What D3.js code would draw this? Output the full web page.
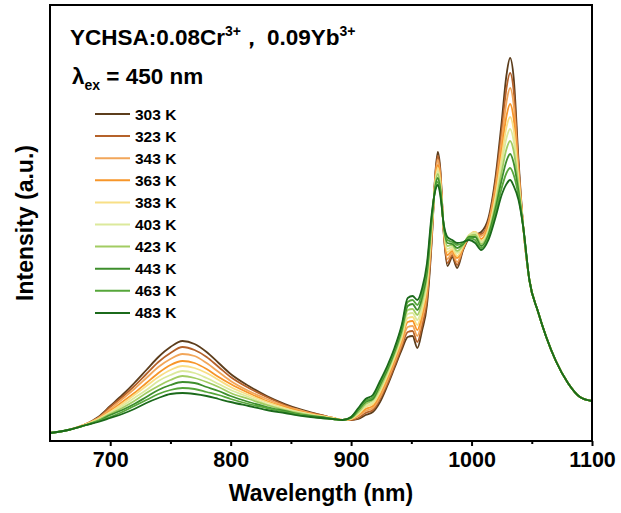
<!DOCTYPE html>
<html>
<head>
<meta charset="utf-8">
<script src="https://cdn.jsdelivr.net/npm/d3@7"></script>
<style>
    body { margin: 0; background: #fff; }
    svg { display: block; }
    text { font-family: "Liberation Sans", Arial, sans-serif; font-weight: bold; fill: #000; }
</style>
</head>
<body>
<div id="chart"></div>
<script>

// Données (intensité en unités arbitraires)
const wavelengths = [650, 665, 680, 690, 700, 710, 720, 730, 740, 750, 760, 770, 780, 790, 800, 815, 830, 845, 860, 875, 885, 893,
    900, 906, 912, 918, 924, 930, 936, 942, 947, 951, 955, 959, 963, 967, 970, 972, 974, 977, 980, 984, 988, 993, 998,
    1003, 1008, 1014, 1020, 1025, 1029, 1032, 1035, 1039, 1043, 1048, 1055, 1062, 1070, 1080, 1090, 1100];

const temperatures = ["303 K", "323 K", "343 K", "363 K", "383 K", "403 K", "423 K", "443 K", "463 K", "483 K"];

const i303 = [8, 11, 17, 24, 35, 46, 58, 71, 84, 94, 100, 97, 89, 78, 67, 55, 45, 37, 31, 26, 23, 21, 21, 22, 26, 29, 39, 55, 73, 91, 104, 105, 93, 111, 136, 201, 269, 289, 273, 206, 175, 184, 173, 191, 203, 206, 209, 223, 265, 319, 366, 383, 363, 281, 213, 161, 130, 104, 80, 58, 44, 40];
const i323 = [8, 11, 17, 23, 34, 44, 55, 67, 79, 88, 94, 91, 84, 74, 64, 53, 44, 36, 30, 26, 23, 21, 21, 23, 28, 31, 42, 57, 75, 94, 109, 110, 99, 116, 141, 204, 267, 285, 270, 207, 178, 186, 176, 192, 204, 207, 207, 220, 260, 310, 353, 368, 350, 276, 213, 161, 130, 104, 80, 58, 44, 40];
const i343 = [8, 11, 17, 23, 32, 42, 52, 63, 74, 82, 87, 85, 78, 69, 60, 50, 42, 35, 30, 25, 23, 21, 22, 25, 30, 33, 44, 60, 78, 97, 114, 115, 105, 122, 147, 208, 265, 281, 266, 209, 182, 188, 179, 193, 205, 208, 205, 218, 255, 301, 339, 353, 336, 271, 213, 161, 130, 104, 80, 58, 44, 40];
const i363 = [8, 11, 17, 22, 30, 39, 48, 58, 68, 76, 80, 78, 72, 64, 57, 48, 40, 34, 29, 25, 23, 21, 22, 26, 32, 35, 47, 63, 81, 101, 119, 120, 111, 127, 152, 211, 262, 276, 263, 210, 186, 190, 183, 194, 205, 209, 202, 215, 249, 291, 325, 337, 322, 266, 213, 161, 130, 104, 80, 58, 44, 40];
const i383 = [8, 11, 17, 22, 29, 37, 46, 55, 64, 71, 75, 73, 68, 61, 54, 46, 39, 33, 28, 25, 23, 21, 22, 27, 34, 37, 49, 65, 83, 103, 123, 124, 116, 131, 156, 214, 260, 273, 260, 211, 189, 192, 185, 195, 206, 209, 200, 212, 245, 284, 314, 324, 311, 262, 213, 161, 130, 104, 80, 58, 44, 40];
const i403 = [8, 11, 16, 21, 28, 35, 43, 51, 60, 66, 70, 68, 63, 57, 51, 44, 37, 32, 28, 24, 22, 21, 23, 28, 35, 39, 51, 67, 85, 106, 127, 128, 121, 135, 160, 217, 259, 270, 257, 212, 192, 194, 188, 196, 206, 208, 199, 210, 241, 277, 303, 312, 300, 258, 213, 161, 130, 104, 80, 58, 44, 40];
const i423 = [8, 11, 16, 21, 27, 33, 40, 48, 55, 61, 65, 63, 59, 54, 48, 42, 36, 31, 27, 24, 22, 21, 23, 29, 37, 41, 53, 69, 87, 108, 131, 132, 126, 140, 165, 219, 257, 267, 255, 213, 195, 196, 190, 196, 205, 206, 197, 208, 237, 269, 292, 300, 290, 254, 213, 161, 130, 104, 80, 58, 44, 40];
const i443 = [8, 11, 16, 20, 26, 31, 37, 44, 51, 56, 59, 58, 54, 50, 45, 39, 34, 30, 26, 24, 22, 21, 23, 31, 39, 42, 56, 71, 89, 111, 135, 137, 131, 144, 169, 222, 255, 263, 252, 214, 198, 197, 193, 197, 204, 204, 195, 206, 233, 261, 280, 287, 278, 249, 213, 161, 130, 104, 80, 58, 44, 40];
const i463 = [8, 11, 16, 20, 24, 29, 35, 41, 47, 51, 53, 52, 49, 46, 42, 37, 33, 29, 26, 23, 22, 21, 24, 32, 40, 44, 58, 73, 91, 114, 139, 141, 136, 149, 174, 225, 253, 259, 249, 215, 201, 199, 196, 198, 203, 201, 193, 203, 228, 253, 268, 273, 266, 245, 213, 161, 130, 104, 80, 58, 44, 40];
const i483 = [8, 11, 16, 19, 23, 27, 32, 38, 43, 47, 48, 47, 45, 42, 39, 35, 31, 28, 25, 23, 22, 21, 24, 33, 42, 46, 60, 75, 93, 116, 143, 145, 141, 153, 178, 228, 251, 256, 246, 216, 204, 201, 198, 199, 201, 198, 191, 201, 224, 246, 257, 261, 255, 241, 213, 161, 130, 104, 80, 58, 44, 40];

const seriesValues = [i303, i323, i343, i363, i383, i403, i423, i443, i463, i483];

const majorTicks = [700, 800, 900, 1000, 1100];
const minorTicks = [750, 850, 950, 1050];

// couleurs des courbes (du plus froid au plus chaud)
const palette = ["#5c3d1c", "#b5622a", "#f2a65a", "#f7962a", "#f8df86", "#dce99c", "#a2cc62", "#3e8e2c", "#56a63a", "#1b6a1b"];

//---------------------------------------------------------------------------------------

// Canevas SVG

const W = 621;
const H = 513;
const plot = { left: 50, right: 592, top: 5, bottom: 441 };

const svg = d3.select("#chart")
    .append("svg")
    .attr("width", W)
    .attr("height", H);

// Échelles
const scaleX = d3.scaleLinear()
    .domain([650, 1100])
    .range([plot.left, plot.right]);

const scaleY = d3.scaleLinear()
    .domain([0, 436])
    .range([plot.bottom, plot.top]);

//---------------------------------------------------------------------------------------

// Courbes

const series = temperatures.map((t, i) => ({
    label: t,
    col: palette[i],
    points: wavelengths.map((w, j) => ({ w: w, v: seriesValues[i][j] }))
}));

const lineGenerator = d3.line()
    .x(d => scaleX(d.w))
    .y(d => scaleY(d.v))
    .curve(d3.curveMonotoneX);

svg.append("g")
    .selectAll("path")
    .data(series)
    .join("path")
    .attr("d", d => lineGenerator(d.points))
    .attr("fill", "none")
    .attr("stroke", d => d.col)
    .attr("stroke-width", 1.8)
    .attr("stroke-linejoin", "round");

//---------------------------------------------------------------------------------------

// Cadre et axes

svg.append("rect")
    .attr("x", plot.left)
    .attr("y", plot.top)
    .attr("width", plot.right - plot.left)
    .attr("height", plot.bottom - plot.top)
    .attr("fill", "none")
    .attr("stroke", "#000")
    .attr("stroke-width", 2);

svg.append("g")
    .attr("transform", `translate(0, ${plot.bottom})`)
    .call(d3.axisBottom(scaleX)
        .tickValues(majorTicks)
        .tickSize(5)
        .tickPadding(6)
        .tickFormat(d3.format("d")))
    .call(g => g.select(".domain").remove())
    .call(g => g.selectAll(".tick line").attr("stroke-width", 2))
    .call(g => g.selectAll("text")
        .attr("font-size", "21.5px")
        .attr("font-family", "Liberation Sans, Arial, sans-serif")
        .attr("font-weight", "bold")
        .attr("fill", "#000"));

svg.append("g")
    .attr("transform", `translate(0, ${plot.bottom})`)
    .call(d3.axisBottom(scaleX)
        .tickValues(minorTicks)
        .tickSize(3)
        .tickFormat(""))
    .call(g => g.select(".domain").remove())
    .call(g => g.selectAll(".tick line").attr("stroke-width", 2));

// Titres des axes
svg.append("text")
    .attr("x", (plot.left + plot.right) / 2)
    .attr("y", 501)
    .attr("text-anchor", "middle")
    .attr("font-size", "23px")
    .text("Wavelength (nm)");

svg.append("text")
    .attr("transform", `translate(33, ${(plot.top + plot.bottom) / 2}) rotate(-90)`)
    .attr("text-anchor", "middle")
    .attr("font-size", "23px")
    .text("Intensity (a.u.)");

//---------------------------------------------------------------------------------------

// Titraille dans le graphique

const title = svg.append("text")
    .attr("x", 70)
    .attr("y", 45)
    .attr("font-size", "22.5px");
title.append("tspan").text("YCHSA:0.08Cr");
title.append("tspan").attr("dy", -9).attr("font-size", "14px").text("3+");
title.append("tspan").attr("dy", 9).attr("dx", -1).text("，");
title.append("tspan").attr("dx", 4).text("0.09Yb");
title.append("tspan").attr("dy", -9).attr("font-size", "14px").text("3+");

const excit = svg.append("text")
    .attr("x", 72)
    .attr("y", 84)
    .attr("font-size", "22.5px");
excit.append("tspan").text("λ");
excit.append("tspan").attr("dy", 6).attr("font-size", "14px").text("ex");
excit.append("tspan").attr("dy", -6).text(" = 450 nm");

//---------------------------------------------------------------------------------------

// Légende

const legend = svg.append("g")
    .selectAll(".legend")
    .data(series)
    .join("g")
    .attr("class", "legend")
    .attr("transform", (d, i) => `translate(95, ${114 + i * 22.1})`);

legend.append("line")
    .attr("x1", 0)
    .attr("x2", 35)
    .attr("stroke", d => d.col)
    .attr("stroke-width", 2);

legend.append("text")
    .attr("x", 40)
    .attr("y", 5.5)
    .attr("font-size", "15.5px")
    .text(d => d.label);

</script>
</body>
</html>
